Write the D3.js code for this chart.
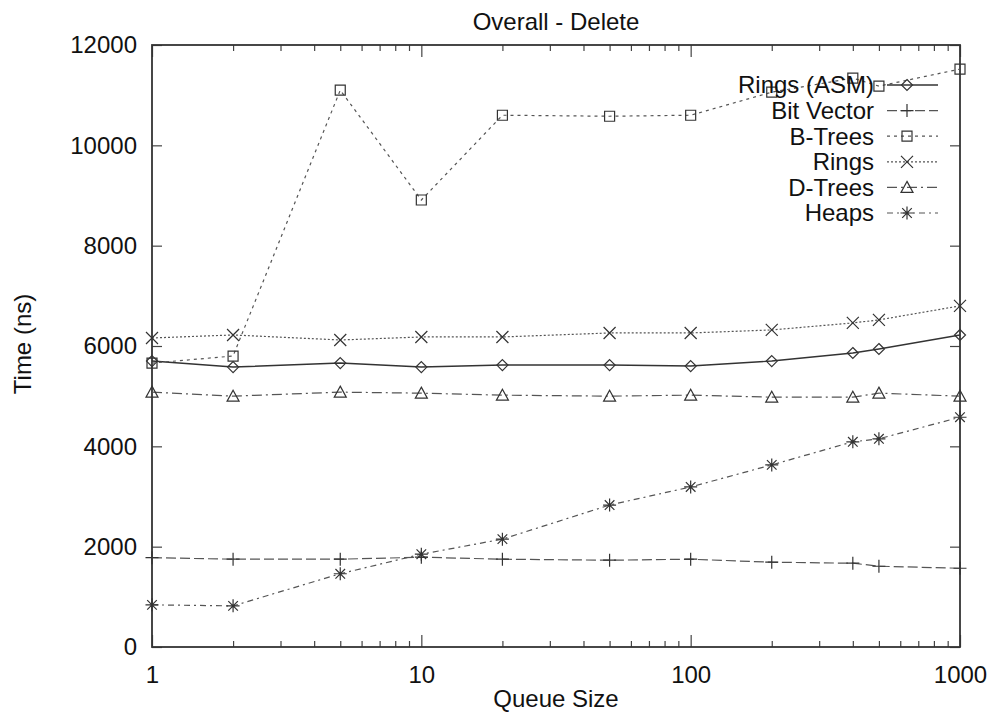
<!DOCTYPE html>
<html>
<head>
<meta charset="utf-8">
<script src="https://cdn.jsdelivr.net/npm/d3@7/dist/d3.min.js"></script>
<style>
  html, body { margin: 0; padding: 0; background: #fff; }
  svg { display: block; }
  text { font-family: "Liberation Sans", Arial, Helvetica, sans-serif; fill: #111; }
</style>
</head>
<body>
<svg id="chart" width="992" height="715"></svg>
<script>
// ---------- data ----------
const queueSizes = [1, 2, 5, 10, 20, 50, 100, 200, 400, 500, 1000];
const ringsAsm   = [5700, 5580, 5660, 5580, 5620, 5620, 5600, 5700, 5860, 5940, 6220];
const bitVector  = [1780, 1750, 1750, 1790, 1750, 1730, 1750, 1690, 1670, 1610, 1570];
const bTrees     = [5660, 5800, 11100, 8910, 10600, 10580, 10600, 11060, 11340, 11180, 11520];
const rings      = [6160, 6220, 6120, 6180, 6180, 6260, 6260, 6320, 6460, 6520, 6800];
const dTrees     = [5080, 5000, 5080, 5060, 5020, 5000, 5020, 4980, 4980, 5060, 5000];
const heaps      = [840, 820, 1460, 1850, 2150, 2830, 3190, 3630, 4090, 4150, 4580];
const seriesNames = ["Rings (ASM)", "Bit Vector", "B-Trees", "Rings", "D-Trees", "Heaps"];
const yTickValues = [0, 2000, 4000, 6000, 8000, 10000, 12000];
const xMajorTicks = [1, 10, 100, 1000];
const titleText = "Overall - Delete";
const xLabelText = "Queue Size";
const yLabelText = "Time (ns)";

// ---------- layout ----------
const svg = d3.select("#chart");
const L = 152, R = 960, T = 45, B = 647;
const x = d3.scaleLog().domain([1, 1000]).range([L, R]);
const y = d3.scaleLinear().domain([0, 12000]).range([B, T]);

const seriesStyle = [
  { dash: null,          marker: "diamond" },
  { dash: "10,4",        marker: "plus" },
  { dash: "3,4",         marker: "square" },
  { dash: "2,2",         marker: "x" },
  { dash: "10,4,2,4",    marker: "triangle" },
  { dash: "6,4,2,4",     marker: "asterisk" }
];
const seriesValues = [ringsAsm, bitVector, bTrees, rings, dTrees, heaps];

function markerPath(kind) {
  const s = 5.5, p = d3.path();
  switch (kind) {
    case "diamond": p.moveTo(0,-s); p.lineTo(s,0); p.lineTo(0,s); p.lineTo(-s,0); p.closePath(); break;
    case "square": p.rect(-5,-5,10,10); break;
    case "plus": p.moveTo(-6.5,0); p.lineTo(6.5,0); p.moveTo(0,-6.5); p.lineTo(0,6.5); break;
    case "x": p.moveTo(-6,-6); p.lineTo(6,6); p.moveTo(-6,6); p.lineTo(6,-6); break;
    case "triangle": p.moveTo(0,-6); p.lineTo(6,5); p.lineTo(-6,5); p.closePath(); break;
    case "asterisk":
      p.moveTo(-6.5,0); p.lineTo(6.5,0); p.moveTo(0,-6.5); p.lineTo(0,6.5);
      p.moveTo(-4.8,-4.8); p.lineTo(4.8,4.8); p.moveTo(-4.8,4.8); p.lineTo(4.8,-4.8); break;
  }
  return p.toString();
}

// ---------- axes ----------
const minorX = [];
[1, 10, 100].forEach(d => { for (let k = 1; k < 10; k++) minorX.push(d * k); });
minorX.push(1000);
const fmtX = d => (xMajorTicks.includes(d) ? String(d) : "");

const gx = svg.append("g").attr("transform", `translate(0,${B})`)
  .call(d3.axisBottom(x).tickValues(minorX).tickFormat(fmtX).tickSizeInner(-6).tickSizeOuter(0).tickPadding(19));
const gxTop = svg.append("g").attr("transform", `translate(0,${T})`)
  .call(d3.axisTop(x).tickValues(minorX).tickFormat("").tickSizeInner(-6).tickSizeOuter(0));
[gx, gxTop].forEach((g, i) => {
  g.selectAll(".tick line")
    .attr("y2", d => (xMajorTicks.includes(d) ? 12 : 6) * (i === 0 ? -1 : 1));
});
const gy = svg.append("g").attr("transform", `translate(${L},0)`)
  .call(d3.axisLeft(y).tickValues(yTickValues).tickFormat(d3.format("d")).tickSizeInner(-10).tickSizeOuter(0).tickPadding(15));
const gyR = svg.append("g").attr("transform", `translate(${R},0)`)
  .call(d3.axisRight(y).tickValues(yTickValues).tickFormat("").tickSizeInner(-10).tickSizeOuter(0));

[gx, gxTop, gy, gyR].forEach(g => {
  g.select(".domain").remove();
  g.selectAll(".tick line").attr("stroke", "#444").attr("stroke-width", 1.2);
  g.selectAll(".tick text").attr("font-size", 24).attr("fill", "#111")
    .style("font-family", '"Liberation Sans", Arial, sans-serif');
});

// frame
svg.append("rect").attr("x", L).attr("y", T).attr("width", R - L).attr("height", B - T)
  .attr("fill", "none").attr("stroke", "#333").attr("stroke-width", 1.8);

// ---------- series ----------
const line = d3.line().x(d => x(d[0])).y(d => y(d[1]));
seriesValues.forEach((vals, i) => {
  const pts = queueSizes.map((q, j) => [q, vals[j]]);
  const st = seriesStyle[i];
  svg.append("path").datum(pts).attr("d", line)
    .attr("fill", "none").attr("stroke", i === 0 ? "#333" : "#555")
    .attr("stroke-width", i === 0 ? 1.4 : 1.2)
    .attr("stroke-dasharray", st.dash);
  svg.append("g").selectAll("path").data(pts).join("path")
    .attr("d", markerPath(st.marker))
    .attr("transform", d => `translate(${x(d[0])},${y(d[1])})`)
    .attr("fill", "none").attr("stroke", "#333").attr("stroke-width", 1.2);
});

// ---------- legend ----------
const legendRowY = d3.scalePoint().domain(seriesNames).range([85, 213]);
seriesNames.forEach((name, i) => {
  const cy = legendRowY(name);
  const st = seriesStyle[i];
  svg.append("text").attr("x", 874).attr("y", cy).attr("dy", "0.35em")
    .attr("text-anchor", "end").attr("font-size", 24).text(name);
  svg.append("line").attr("x1", 887).attr("x2", 938).attr("y1", cy).attr("y2", cy)
    .attr("stroke", i === 0 ? "#333" : "#555").attr("stroke-width", i === 0 ? 1.4 : 1.2)
    .attr("stroke-dasharray", st.dash);
  svg.append("path").attr("d", markerPath(st.marker))
    .attr("transform", `translate(907,${cy})`)
    .attr("fill", "none").attr("stroke", "#333").attr("stroke-width", 1.2);
});

// ---------- titles ----------
svg.append("text").attr("x", (L + R) / 2).attr("y", 30).attr("text-anchor", "middle")
  .attr("font-size", 24).text(titleText);
svg.append("text").attr("x", (L + R) / 2).attr("y", 707).attr("text-anchor", "middle")
  .attr("font-size", 24).text(xLabelText);
svg.append("text").attr("transform", "translate(31,344) rotate(-90)").attr("text-anchor", "middle")
  .attr("font-size", 24).text(yLabelText);
</script>
</body>
</html>
